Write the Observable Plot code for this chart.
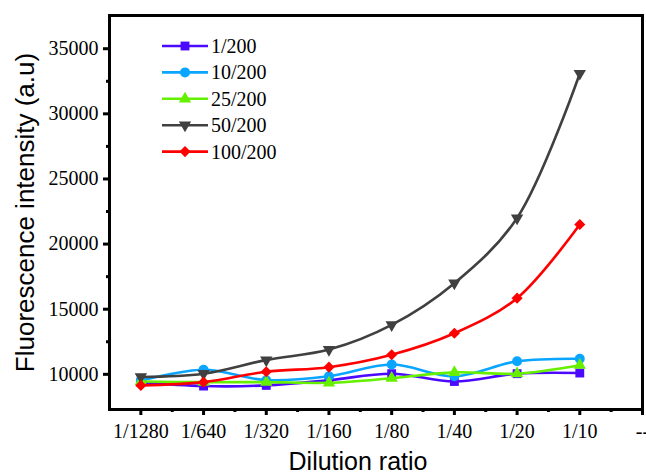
<!DOCTYPE html>
<html>
<head>
<meta charset="utf-8">
<script src="https://cdn.jsdelivr.net/npm/d3@7"></script>
<script src="https://cdn.jsdelivr.net/npm/@observablehq/plot@0.6"></script>
<style>
  html, body { margin: 0; padding: 0; background: #fff; }
  #chart { width: 646px; height: 476px; overflow: hidden; }
</style>
</head>
<body>
<div id="chart"></div>
<script>
// Dilution ratios along the x axis (the last slot is an empty "--" position)
const dilutions = ["1/1280", "1/640", "1/320", "1/160", "1/80", "1/40", "1/20", "1/10"];
const xTickLabels = [...dilutions, "--"];

// Series names and fluorescence intensities (a.u) for each dilution
const seriesNames = ["1/200", "10/200", "25/200", "50/200", "100/200"];
const s1_200   = [9400, 9100, 9150, 9550, 10050, 9450, 10050, 10100];
const s10_200  = [9500, 10350, 9550, 9850, 10750, 9850, 11000, 11200];
const s25_200  = [9450, 9400, 9400, 9350, 9700, 10150, 10050, 10700];
const s50_200  = [9800, 10050, 11100, 11900, 13800, 17000, 22000, 33100];
const s100_200 = [9150, 9400, 10200, 10550, 11500, 13150, 15850, 21500];

const yMajorTicks = [10000, 15000, 20000, 25000, 30000, 35000];
const yMinorTicks = [12500, 17500, 22500, 27500, 32500];

const colors = ["#4b0aff", "#0aa5ff", "#66f000", "#404040", "#ff0000"];

// Downward-pointing triangle (d3's triangle flipped)
const triangleDown = {
  draw(context, size) {
    const y = -Math.sqrt(size / (Math.sqrt(3) * 3));
    context.moveTo(0, -y * 2);
    context.lineTo(-Math.sqrt(3) * y, y);
    context.lineTo(Math.sqrt(3) * y, y);
    context.closePath();
  }
};
const symbols = [d3.symbolSquare, d3.symbolCircle, d3.symbolTriangle, triangleDown, d3.symbolDiamond2];
const radii = [5, 5, 4.6, 4.6, 5];

const valuesBySeries = [s1_200, s10_200, s25_200, s50_200, s100_200];
const series = seriesNames.map((name, k) => ({
  name,
  color: colors[k],
  symbol: symbols[k],
  r: radii[k],
  points: valuesBySeries[k].map((v, i) => ({i, label: dilutions[i], value: v}))
}));

const serif = "Liberation Serif";
const sans = "Liberation Sans";

const marks = [];
for (const s of series) {
  marks.push(Plot.line(s.points, {x: "i", y: "value", stroke: s.color, strokeWidth: 2.6, curve: "catmull-rom"}));
  marks.push(Plot.dot(s.points, {x: "i", y: "value", fill: s.color, stroke: "none", symbol: s.symbol, r: s.r}));
}

const plot = Plot.plot({
  width: 646,
  height: 476,
  marginLeft: 109,
  marginRight: 4,
  marginTop: 15,
  marginBottom: 67,
  style: {fontFamily: serif, fontSize: "20px", color: "black", background: "white"},
  x: {type: "linear", domain: [-0.5, 8]},
  y: {type: "linear", domain: [7300, 37550]},
  marks: [
    ...marks,
    Plot.frame({stroke: "black", strokeWidth: 3}),
    Plot.axisX({ticks: d3.range(xTickLabels.length), tickFormat: (i) => xTickLabels[i], tickSize: 6, tickPadding: 8, strokeWidth: 3, label: null, fontFamily: serif, fontSize: 20}),
    Plot.axisX({ticks: d3.range(dilutions.length).map((i) => i + 0.5), tickFormat: () => "", tickSize: 3, strokeWidth: 3, label: null}),
    Plot.axisY({ticks: yMajorTicks, tickFormat: d3.format("d"), tickSize: 6, tickPadding: 5, strokeWidth: 3, label: null, fontFamily: serif, fontSize: 20}),
    Plot.axisY({ticks: yMinorTicks, tickFormat: () => "", tickSize: 3, strokeWidth: 3, label: null}),
    Plot.text(["Dilution ratio"], {text: (d) => d, frameAnchor: "bottom", dy: 52, dx: -18, fontFamily: sans, fontSize: 25, lineAnchor: "middle", textAnchor: "middle"}),
    Plot.text(["Fluorescence intensity (a.u)"], {text: (d) => d, frameAnchor: "left", rotate: -90, dx: -84, fontFamily: sans, fontSize: 26, lineAnchor: "middle", textAnchor: "middle"})
  ]
});

// Legend in the upper-left corner of the plot area
const legend = d3.select(plot).append("g").attr("class", "legend");
series.forEach((s, k) => {
  const row = legend.append("g").attr("transform", `translate(0,${46 + 26.4 * k})`);
  row.append("line").attr("x1", 162).attr("x2", 208).attr("y1", 0).attr("y2", 0)
    .attr("stroke", s.color).attr("stroke-width", 2.6);
  row.append("path").attr("transform", "translate(185,0)")
    .attr("d", d3.symbol(s.symbol, Math.PI * s.r * s.r)())
    .attr("fill", s.color);
  row.append("text").attr("x", 211).attr("y", 0).attr("dy", "0.35em")
    .attr("text-anchor", "start")
    .attr("font-family", serif).attr("font-size", 20).attr("fill", "black")
    .text(s.name);
});

document.getElementById("chart").appendChild(plot);
</script>
</body>
</html>
